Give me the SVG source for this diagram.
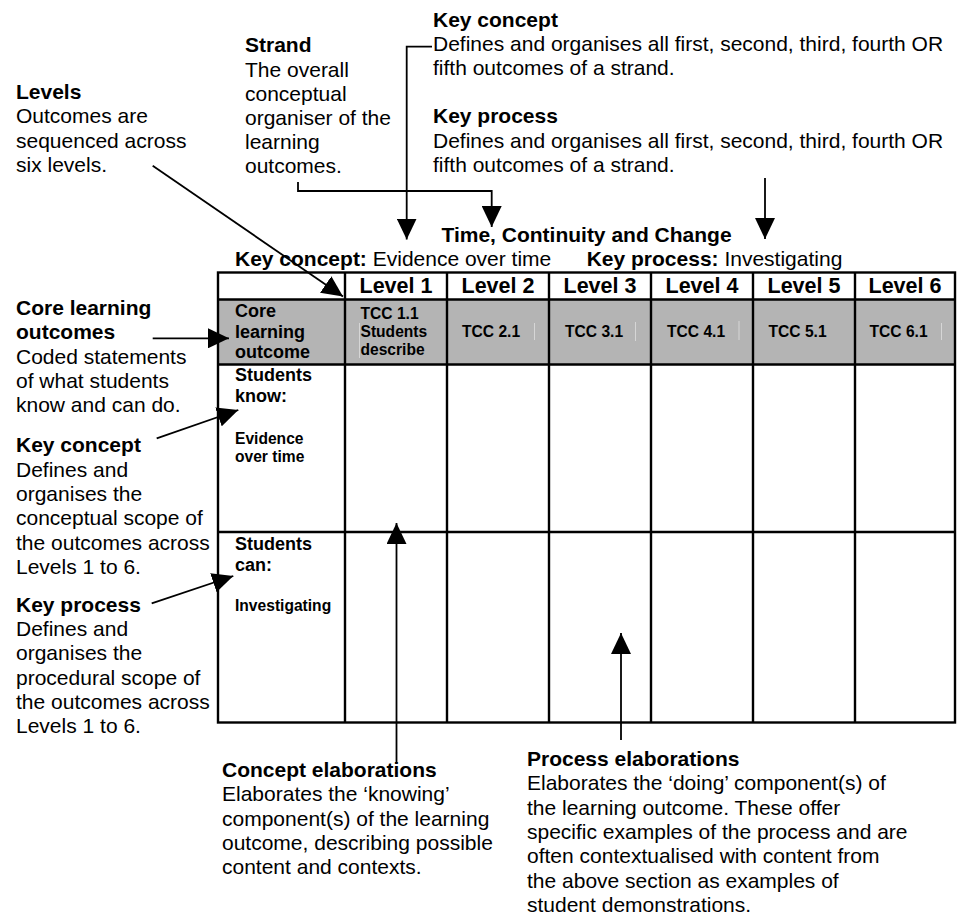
<svg xmlns="http://www.w3.org/2000/svg" width="957" height="920" viewBox="0 0 957 920">
<defs>
<style>
text { font-family: "Liberation Sans", Arial, sans-serif; fill: #000; }
.t { font-size: 21px; }
.b { font-weight: bold; }
.hd { font-size: 21.5px; font-weight: bold; text-anchor: middle; }
.lab { font-size: 18px; font-weight: bold; }
.sm { font-size: 15.6px; font-weight: bold; }
.grid { stroke: #000; stroke-width: 2.4; fill: none; }
.faint { stroke: #d6d6d6; stroke-width: 1; }
.con { stroke: #000; stroke-width: 1.8; fill: none; marker-end: url(#ah); }
</style>
<marker id="ah" markerUnits="userSpaceOnUse" markerWidth="22" markerHeight="20" refX="21" refY="10" orient="auto" viewBox="0 0 22 20">
<path d="M0,0 L21,10 L0,20 Z" fill="#000"/>
</marker>
</defs>
<rect width="957" height="920" fill="#fff"/>

<g id="table">
<rect x="218" y="299.5" width="737" height="65" fill="#b4b4b4"/>
<rect class="grid" x="218" y="272.5" width="737" height="450"/>
<line class="grid" x1="218" y1="299.5" x2="955" y2="299.5"/>
<line class="grid" x1="218" y1="364.5" x2="955" y2="364.5"/>
<line class="grid" x1="218" y1="532" x2="955" y2="532"/>
<line class="grid" x1="345" y1="272.5" x2="345" y2="722.5"/>
<line class="grid" x1="447" y1="272.5" x2="447" y2="722.5"/>
<line class="grid" x1="549" y1="272.5" x2="549" y2="722.5"/>
<line class="grid" x1="651" y1="272.5" x2="651" y2="722.5"/>
<line class="grid" x1="753" y1="272.5" x2="753" y2="722.5"/>
<line class="grid" x1="855" y1="272.5" x2="855" y2="722.5"/>
<line class="faint" x1="359.5" y1="323" x2="359.5" y2="358"/>
<line class="faint" x1="534.5" y1="323" x2="534.5" y2="340"/>
<line class="faint" x1="635.5" y1="322" x2="635.5" y2="341"/>
<line class="faint" x1="739" y1="321" x2="739" y2="340"/>
<line class="faint" x1="941.5" y1="323" x2="941.5" y2="340"/>
<text class="hd" x="396" y="293">Level 1</text>
<text class="hd" x="498" y="293">Level 2</text>
<text class="hd" x="600" y="293">Level 3</text>
<text class="hd" x="702" y="293">Level 4</text>
<text class="hd" x="804" y="293">Level 5</text>
<text class="hd" x="905" y="293">Level 6</text>
<text class="lab" x="235"><tspan x="235" y="316.7">Core</tspan><tspan x="235" y="337.5">learning</tspan><tspan x="235" y="358.3">outcome</tspan></text>
<text class="sm" x="360.5"><tspan x="360.5" y="319">TCC 1.1</tspan><tspan x="360.5" y="337">Students</tspan><tspan x="360.5" y="354.5">describe</tspan></text>
<text class="sm" x="462" y="336.5">TCC 2.1</text>
<text class="sm" x="565" y="336.5">TCC 3.1</text>
<text class="sm" x="667" y="336.5">TCC 4.1</text>
<text class="sm" x="768.5" y="336.5">TCC 5.1</text>
<text class="sm" x="869.5" y="336.5">TCC 6.1</text>
<text class="lab" x="235"><tspan x="235" y="381">Students</tspan><tspan x="235" y="402">know:</tspan></text>
<text class="sm" x="235"><tspan x="235" y="444.3">Evidence</tspan><tspan x="235" y="462.3">over time</tspan></text>
<text class="lab" x="235"><tspan x="235" y="550">Students</tspan><tspan x="235" y="570.7">can:</tspan></text>
<text class="sm" x="235" y="610.7">Investigating</text>
</g>

<g id="strand-title">
<text class="t b" x="586.5" y="241.5" text-anchor="middle">Time, Continuity and Change</text>
<text class="t" x="235" y="265.5"><tspan class="b">Key concept:</tspan> Evidence over time</text>
<text class="t" x="586.7" y="265.5"><tspan class="b">Key process:</tspan> Investigating</text>
</g>

<g id="levels-note">
<text class="t" x="16"><tspan class="b" x="16" y="99">Levels</tspan><tspan x="16" y="123.3">Outcomes are</tspan><tspan x="16" y="147.5">sequenced across</tspan><tspan x="16" y="171.7">six levels.</tspan></text>
</g>

<g id="strand-note">
<text class="t" x="245"><tspan class="b" x="245" y="52.3">Strand</tspan><tspan x="245" y="76.5">The overall</tspan><tspan x="245" y="100.7">conceptual</tspan><tspan x="245" y="125">organiser of the</tspan><tspan x="245" y="149.2">learning</tspan><tspan x="245" y="173.4">outcomes.</tspan></text>
</g>

<g id="key-concept-top-note">
<text class="t" x="433"><tspan class="b" x="433" y="26.7">Key concept</tspan><tspan x="433" y="50.9">Defines and organises all first, second, third, fourth OR</tspan><tspan x="433" y="75.1">fifth outcomes of a strand.</tspan></text>
</g>

<g id="key-process-top-note">
<text class="t" x="433"><tspan class="b" x="433" y="123.3">Key process</tspan><tspan x="433" y="147.5">Defines and organises all first, second, third, fourth OR</tspan><tspan x="433" y="171.7">fifth outcomes of a strand.</tspan></text>
</g>

<g id="core-outcomes-note">
<text class="t" x="16"><tspan class="b" x="16" y="315">Core learning</tspan><tspan class="b" x="16" y="339.3">outcomes</tspan><tspan x="16" y="363.6">Coded statements</tspan><tspan x="16" y="387.9">of what students</tspan><tspan x="16" y="412.2">know and can do.</tspan></text>
</g>

<g id="key-concept-left-note">
<text class="t" x="16"><tspan class="b" x="16" y="452.3">Key concept</tspan><tspan x="16" y="476.6">Defines and</tspan><tspan x="16" y="500.9">organises the</tspan><tspan x="16" y="525.2">conceptual scope of</tspan><tspan x="16" y="549.5">the outcomes across</tspan><tspan x="16" y="573.8">Levels 1 to 6.</tspan></text>
</g>

<g id="key-process-left-note">
<text class="t" x="16"><tspan class="b" x="16" y="611.7">Key process</tspan><tspan x="16" y="636">Defines and</tspan><tspan x="16" y="660.3">organises the</tspan><tspan x="16" y="684.6">procedural scope of</tspan><tspan x="16" y="708.9">the outcomes across</tspan><tspan x="16" y="733.2">Levels 1 to 6.</tspan></text>
</g>

<g id="concept-elaborations-note">
<text class="t" x="222"><tspan class="b" x="222" y="777">Concept elaborations</tspan><tspan x="222" y="801.3">Elaborates the ‘knowing’</tspan><tspan x="222" y="825.6">component(s) of the learning</tspan><tspan x="222" y="849.9">outcome, describing possible</tspan><tspan x="222" y="874.2">content and contexts.</tspan></text>
</g>

<g id="process-elaborations-note">
<text class="t" x="527"><tspan class="b" x="527" y="766">Process elaborations</tspan><tspan x="527" y="790.3">Elaborates the ‘doing’ component(s) of</tspan><tspan x="527" y="814.6">the learning outcome. These offer</tspan><tspan x="527" y="838.9">specific examples of the process and are</tspan><tspan x="527" y="863.2">often contextualised with content from</tspan><tspan x="527" y="887.5">the above section as examples of</tspan><tspan x="527" y="911.8">student demonstrations.</tspan></text>
</g>

<g id="connectors">
<line class="con" x1="152.7" y1="165.7" x2="343" y2="296.5"/>
<polyline class="con" points="298,182 298,191 491.7,191 491.7,227"/>
<polyline class="con" points="432,46.7 406.7,46.7 406.7,239.5"/>
<line class="con" x1="765" y1="178" x2="765" y2="239"/>
<line class="con" x1="152.7" y1="338.3" x2="229" y2="338.3"/>
<line class="con" x1="156.7" y1="438.3" x2="238.3" y2="410"/>
<line class="con" x1="151.7" y1="603.3" x2="233.3" y2="576"/>
<line class="con" x1="396.5" y1="763" x2="396.5" y2="523"/>
<line class="con" x1="621" y1="740" x2="621" y2="633"/>
</g>
</svg>
